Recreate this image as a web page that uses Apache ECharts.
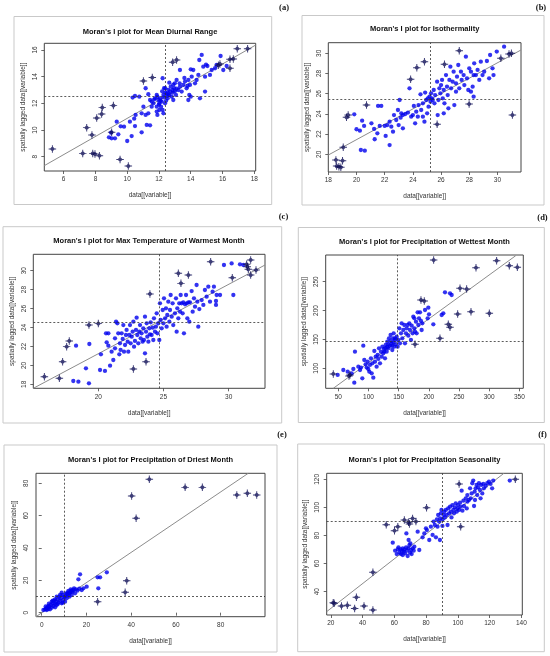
<!DOCTYPE html>
<html><head><meta charset="utf-8">
<script src="https://cdn.jsdelivr.net/npm/echarts@6/dist/echarts.min.js"></script>
<style>html,body{margin:0;padding:0;background:#fff}#c{width:550px;height:656px}</style>
</head><body><div id="c"></div>
<script>
// ---------- (a) Mean Diurnal Range ----------
const aTitle = "Moran's I plot for Mean Diurnal Range";
const aXTicks = [6, 8, 10, 12, 14, 16, 18];
const aYTicks = [8, 10, 12, 14, 16];
const aXRange = [4.78, 18.09];
const aYRange = [6.93, 16.5];
const aMean = [12.41, 12.53];
const aFit = [[4.78, 7.33], [18.09, 16.37]];
const aInfl = [[5.29,8.58],[7.2,8.25],[7.45,10.18],[7.78,9.63],[7.83,8.25],[7.97,8.2],[8.08,10.9],[8.25,8.08],[8.39,11.2],[8.43,11.68],[9.13,11.83],[9.02,9.83],[9.55,7.8],[10.07,7.3],[11.02,13.68],[11.58,13.93],[12.86,15.08],[13.11,15.25],[15.74,14.85],[16.47,14.63],[16.47,15.3],[16.68,15.33],[16.93,16.1],[17.58,16.1],[15.84,14.95]];
const aBlue = [[8.85,9.45],[9.02,9.38],[9.23,9.38],[9.34,10.63],[8.98,9.8],[9.44,9.68],[9.8,10.25],[9.59,10.28],[10.28,9.55],[10.0,9.18],[10.49,10.3],[10.44,10.85],[10.17,10.63],[10.53,11.13],[10.34,12.43],[10.49,12.55],[10.76,12.5],[10.91,11.25],[11.02,11.75],[10.91,9.83],[11.23,10.38],[11.44,10.35],[11.16,11.13],[11.16,13.13],[11.33,12.68],[11.44,12.25],[11.54,12.13],[11.65,12.0],[11.75,12.38],[11.86,11.75],[11.86,12.63],[11.96,12.25],[12.02,12.0],[12.07,12.38],[12.13,11.75],[12.17,12.13],[12.23,11.5],[12.28,12.63],[12.32,13.13],[12.38,12.0],[12.23,13.88],[12.48,12.75],[12.55,12.38],[12.59,13.0],[12.65,12.63],[12.74,13.25],[12.8,12.5],[12.86,12.8],[12.9,12.25],[12.95,13.13],[13.0,13.5],[13.07,12.63],[13.11,13.75],[13.22,13.0],[13.32,14.5],[13.32,13.25],[13.43,12.88],[13.53,13.38],[13.64,13.63],[13.74,13.13],[13.85,13.75],[13.91,12.63],[13.95,13.38],[14.06,14.0],[14.16,14.5],[14.27,13.5],[14.37,13.75],[14.48,14.13],[14.58,12.38],[14.54,15.25],[14.69,15.63],[14.79,14.75],[14.9,12.88],[14.9,14.0],[15.05,14.8],[15.21,14.13],[15.32,14.5],[15.53,14.63],[15.63,14.88],[15.88,15.55],[16.05,14.5],[16.26,14.8],[14.96,14.9],[14.0,14.55],[11.9,11.13],[12.02,11.5],[11.54,11.75],[12.4,13.13],[12.65,13.55],[13.85,12.25],[14.0,12.5],[12.28,11.25],[11.86,11.38],[11.33,11.25],[12.1,12.2],[12.3,12.45],[12.5,12.55],[12.7,12.9],[12.45,12.2],[12.6,12.7],[12.85,13.0],[13.1,13.1],[12.0,11.9],[11.7,12.3],[12.4,12.8],[13.3,13.5],[13.6,13.9],[13.8,13.3],[12.9,13.4],[13.0,12.9],[12.2,12.9],[11.9,12.5]];

// ---------- (b) Isothermality ----------
const bTitle = "Moran's I plot for Isothermality";
const bXTicks = [18, 20, 22, 24, 26, 28, 30];
const bYTicks = [20, 22, 24, 26, 28, 30];
const bXRange = [18.0, 31.67];
const bYRange = [18.25, 31.05];
const bMean = [25.25, 25.48];
const bFit = [[18.0, 19.93], [31.67, 30.33]];
const bInfl = [[18.54,19.44],[18.59,18.84],[18.75,18.78],[18.89,18.71],[19.01,19.37],[19.06,20.69],[19.29,23.66],[19.41,23.89],[20.71,24.88],[23.84,27.43],[24.28,28.58],[24.82,29.17],[25.72,22.97],[26.24,28.91],[27.29,30.26],[27.99,24.98],[30.24,29.5],[30.82,29.93],[30.99,30.0],[31.06,23.89]];
const bBlue = [[19.84,23.96],[20.0,22.48],[20.24,22.34],[20.4,23.33],[20.54,22.81],[20.31,20.43],[20.59,20.36],[21.06,23.07],[21.25,22.51],[21.29,21.49],[21.48,22.08],[21.53,24.79],[21.76,24.79],[21.65,22.81],[22.0,22.81],[22.07,21.82],[22.19,22.9],[22.35,20.92],[22.35,23.23],[22.47,22.74],[22.59,22.24],[22.66,23.89],[22.82,23.4],[22.94,24.39],[22.99,22.9],[23.06,25.38],[23.13,23.63],[23.18,24.06],[23.29,22.57],[23.29,23.89],[23.46,23.99],[23.65,24.13],[23.76,26.53],[23.88,23.73],[24.0,23.89],[24.07,24.79],[24.16,23.07],[24.24,24.22],[24.35,23.73],[24.4,24.88],[24.54,25.94],[24.59,24.39],[24.71,23.73],[24.71,25.05],[24.82,23.23],[24.87,26.11],[24.94,25.38],[25.01,24.06],[25.06,25.54],[25.11,24.72],[25.18,25.71],[25.25,25.21],[25.29,26.04],[25.34,25.54],[25.41,25.38],[25.48,26.37],[25.53,25.05],[25.58,25.87],[25.72,27.19],[25.76,23.89],[25.81,25.38],[25.88,26.53],[25.95,26.04],[26.0,26.86],[26.07,27.36],[26.12,25.54],[26.19,26.37],[26.24,25.05],[26.35,27.85],[26.42,26.7],[26.47,25.87],[26.52,24.55],[26.59,27.36],[26.66,28.68],[26.71,26.53],[26.82,27.19],[26.89,28.18],[26.94,24.88],[27.06,27.03],[27.13,27.69],[27.22,28.84],[27.29,26.53],[27.41,28.18],[27.46,27.36],[27.6,27.85],[27.65,26.86],[27.76,29.67],[27.84,27.52],[27.93,26.37],[28.0,28.51],[28.12,28.18],[28.24,26.7],[28.31,27.85],[28.35,29.01],[28.47,27.85],[28.59,28.35],[28.71,27.36],[28.82,29.17],[28.94,27.85],[29.06,28.18],[29.25,29.24],[29.41,27.52],[29.48,29.83],[29.65,28.51],[29.72,27.85],[29.95,30.17],[30.47,30.66],[28.31,25.71],[28.12,26.2],[27.06,26.2],[26.19,24.06]];

// ---------- (c) Max Temperature of Warmest Month ----------
const cTitle = "Moran's I plot for Max Temperature of Warmest Month";
const cXTicks = [20, 25, 30];
const cYTicks = [18, 20, 22, 24, 26, 28, 30];
const cXRange = [15.01, 32.79];
const cYRange = [17.58, 31.73];
const cMean = [24.65, 24.55];
const cFit = [[15.01, 17.58], [32.79, 30.6]];
const cInfl = [[15.86,18.81],[17.01,18.63],[17.26,20.39],[17.57,21.98],[17.77,22.58],[19.28,24.26],[20.0,24.41],[22.69,19.62],[23.66,20.39],[23.96,27.54],[26.14,29.72],[26.34,28.66],[26.91,29.54],[28.62,30.95],[30.28,29.26],[31.38,30.67],[31.43,30.42],[31.51,30.14],[31.69,31.13],[31.69,29.54],[32.1,30.07]];
const cBlue = [[18.29,22.08],[18.08,18.35],[18.47,18.28],[19.28,18.11],[19.05,19.69],[19.31,22.26],[20.13,19.51],[20.2,21.17],[20.51,19.41],[20.59,23.38],[20.64,22.43],[20.77,23.38],[20.77,22.08],[20.9,19.97],[21.02,21.45],[21.15,20.57],[21.28,21.8],[21.28,22.86],[21.36,24.62],[21.46,24.44],[21.53,23.38],[21.61,21.17],[21.66,22.33],[21.71,21.63],[21.79,23.38],[21.87,22.79],[21.92,24.26],[21.97,21.45],[22.05,22.15],[22.12,23.21],[22.17,23.74],[22.25,22.5],[22.3,21.45],[22.38,23.21],[22.43,24.26],[22.48,22.33],[22.56,23.03],[22.63,23.56],[22.69,24.62],[22.74,21.98],[22.81,22.58],[22.89,23.74],[22.94,25.04],[22.99,23.21],[23.07,22.33],[23.15,23.56],[23.2,24.26],[23.25,22.86],[23.32,23.38],[23.4,22.5],[23.45,23.91],[23.5,22.68],[23.58,25.14],[23.58,21.27],[23.66,23.56],[23.71,24.44],[23.76,23.03],[23.84,22.5],[23.91,23.91],[23.96,23.28],[24.02,24.55],[24.09,23.21],[24.17,23.98],[24.22,22.68],[24.27,24.97],[24.35,23.56],[24.42,24.09],[24.48,25.5],[24.53,23.38],[24.6,24.44],[24.68,22.68],[24.73,26.55],[24.78,24.79],[24.86,23.91],[24.94,25.85],[24.99,24.44],[25.04,27.08],[25.12,24.97],[25.19,26.03],[25.24,24.09],[25.29,25.32],[25.37,26.73],[25.45,24.62],[25.5,25.85],[25.55,27.43],[25.63,25.14],[25.7,26.55],[25.75,24.26],[25.88,25.5],[25.96,27.08],[26.01,23.56],[26.06,26.03],[26.14,24.97],[26.21,26.55],[26.27,25.67],[26.32,27.43],[26.39,26.55],[26.47,25.5],[26.52,26.66],[26.57,23.38],[26.65,26.45],[26.73,27.43],[26.78,26.55],[26.83,24.97],[26.91,26.66],[26.98,24.62],[27.03,26.66],[27.16,27.85],[27.24,25.67],[27.34,27.08],[27.42,26.2],[27.54,28.49],[27.6,26.73],[27.67,24.09],[27.75,25.95],[27.93,26.9],[28.06,26.38],[28.18,27.96],[28.31,27.26],[28.44,28.31],[28.57,26.73],[28.77,27.78],[28.87,28.31],[29.03,26.38],[29.08,27.43],[29.34,27.43],[29.64,30.6],[30.23,30.77],[30.36,27.43],[30.87,30.67],[31.13,30.6],[29.03,26.8]];

// ---------- (d) Precipitation of Wettest Month ----------
const dTitle = "Moran's I plot for Precipitation of Wettest Month";
const dXTicks = [50, 100, 150, 200, 250, 300, 350];
const dYTicks = [100, 150, 200, 250];
const dXRange = [29.1, 356.6];
const dYRange = [65.4, 296.2];
const dMean = [148.5, 147.2];
const dFit = [[41.7, 65.4], [344, 295]];
const dInfl = [[41.7,90.2],[67.7,86.7],[69.3,88.5],[177.1,141.5],[187.0,218.3],[192.5,216.5],[208.0,287.5],[218.5,151.9],[232.3,176.2],[235.1,171.0],[247.8,194.0],[251.7,238.5],[262.7,237.3],[269.9,198.1],[278.2,274.2],[300.3,195.2],[312.4,286.3],[333.4,277.7],[346.7,274.8]];
const dBlue = [[48.9,88.5],[65.5,94.2],[76.5,75.2],[74.9,98.8],[77.6,128.8],[83.2,102.9],[86.0,97.1],[87.6,101.2],[89.8,82.7],[91.4,139.2],[93.1,114.4],[95.3,106.9],[97.0,101.2],[98.6,111.5],[99.7,98.8],[101.4,94.2],[102.5,105.8],[104.1,117.3],[105.3,91.3],[106.4,108.7],[108.0,83.8],[109.7,130.0],[110.8,111.5],[111.9,120.2],[113.5,102.9],[115.2,123.1],[116.3,116.2],[117.4,134.6],[119.1,108.7],[120.7,128.8],[121.8,120.2],[123.0,137.5],[124.6,126.0],[125.7,133.5],[127.4,117.3],[128.5,140.4],[130.1,128.8],[131.2,146.2],[132.9,134.6],[134.0,151.9],[135.6,139.2],[136.7,157.7],[138.4,143.3],[139.5,131.7],[140.6,151.9],[141.7,160.6],[142.8,137.5],[143.9,149.0],[145.0,141.5],[146.7,154.8],[148.3,137.5],[149.4,149.0],[151.1,169.2],[152.2,143.3],[153.9,160.6],[155.0,177.9],[156.1,151.9],[157.7,166.3],[159.4,175.0],[160.5,143.3],[162.2,160.6],[163.3,169.2],[164.9,175.0],[166.0,156.5],[167.7,177.9],[168.8,166.3],[170.4,149.0],[171.6,173.8],[173.2,160.6],[174.3,189.4],[176.0,169.2],[177.1,163.5],[178.7,180.8],[179.8,160.6],[181.5,196.9],[182.6,175.0],[183.7,186.5],[185.4,196.9],[187.0,181.9],[189.2,177.9],[193.7,201.0],[198.1,186.5],[199.2,205.0],[200.3,193.5],[207.5,176.2],[221.3,192.3],[224.0,195.2],[226.8,231.5],[235.1,229.8],[237.9,226.9],[188.1,166.3],[176.0,186.5],[58.3,97.1],[72.1,91.3],[128,135],[133,141],[137,147],[141,145],[126,129],[131,137],[144,152],[139,139]];

// ---------- (e) Precipitation of Driest Month ----------
const eTitle = "Moran's I plot for Precipitation of Driest Month";
const eXTicks = [0, 20, 40, 60, 80];
const eYTicks = [0, 20, 40, 60, 80];
const eXRange = [-2.55, 99.8];
const eYRange = [-2.5, 86.2];
const eMean = [10.1, 9.9];
const eFit = [[-2.55, -2.5], [92.3, 86.2]];
const eInfl = [[25.0,6.8],[37.3,12.6],[38.0,19.8],[40.2,72.2],[42.2,58.4],[48.1,82.5],[64.1,77.5],[71.8,77.5],[87.2,72.8],[91.9,73.8],[96.1,72.8]];
const eBlue = [[0.75,1.65],[1.5,2.06],[1.94,2.68],[2.24,1.65],[2.53,3.3],[2.98,2.27],[3.43,3.71],[3.73,2.06],[4.02,4.74],[4.47,3.09],[4.47,6.8],[4.92,5.77],[5.22,4.12],[5.51,7.42],[5.96,5.36],[6.41,6.8],[6.71,4.74],[7.0,8.25],[7.45,6.19],[7.9,9.9],[8.2,7.42],[8.49,8.87],[8.94,5.77],[9.39,10.93],[9.69,7.84],[9.98,9.9],[10.43,6.8],[10.88,11.96],[11.18,8.87],[11.62,10.93],[11.92,13.4],[12.37,9.9],[12.67,12.37],[12.96,14.43],[13.41,10.93],[13.86,12.99],[14.16,14.02],[14.9,11.96],[15.35,14.43],[15.94,13.61],[16.39,20.62],[17.14,23.71],[17.88,14.02],[18.63,15.05],[20.1,16.08],[25.3,15.05],[25.0,21.86],[26.1,21.86],[29.1,24.95],[6.71,9.9],[5.96,8.25],[4.92,7.42],[2.98,4.12],[9.39,6.19],[10.43,9.9],[11.18,11.55],[12.37,11.96],[13.41,13.61],[14.45,15.05],[8.2,10.93],[8.94,12.37],[3.2,5.5],[1.8,3.9],[6.0,3.3],[7.2,5.3],[11.8,12.6],[13.0,13.1],[16.8,14.8]];

// ---------- (f) Precipitation Seasonality ----------
const fTitle = "Moran's I plot for Precipitation Seasonality";
const fXTicks = [20, 40, 60, 80, 100, 120, 140];
const fYTicks = [40, 60, 80, 100, 120];
const fXRange = [17.4, 140.6];
const fYRange = [23.4, 124.3];
const fMean = [89.9, 90.3];
const fFit = [[17.4, 25.8], [129, 124.3]];
const fInfl = [[21.5,32.2],[22.1,31.7],[26.7,29.8],[30.4,30.3],[35.0,28.1],[36.1,36.0],[40.9,29.8],[46.5,26.9],[46.5,53.8],[54.9,87.7],[60.1,83.4],[62.2,86.3],[66.3,91.0],[69.0,89.4],[69.5,88.2],[71.5,92.2],[73.6,89.9],[80.3,99.8],[100.8,116.7],[101.8,86.3],[136.2,120.0]];
const fBlue = [[59.0,74.9],[60.5,69.2],[61.5,66.8],[62.2,70.1],[62.6,71.6],[63.2,67.8],[63.8,70.1],[64.2,66.8],[64.7,69.2],[65.3,70.9],[65.3,66.1],[65.9,68.5],[66.3,70.1],[66.7,67.3],[67.4,71.6],[67.6,81.5],[68.0,69.2],[68.4,65.4],[68.8,70.9],[69.0,76.8],[69.5,73.2],[69.9,67.8],[70.1,74.3],[70.5,69.7],[70.9,66.8],[71.5,70.9],[72.2,69.2],[72.6,72.0],[74.7,82.7],[75.7,69.7],[77.8,78.7],[78.9,81.5],[80.5,83.9],[82.0,76.8],[83.0,86.3],[84.1,80.4],[84.7,89.9],[85.5,87.5],[86.2,78.7],[86.8,91.5],[87.2,86.3],[87.6,94.6],[88.2,89.9],[88.7,76.8],[88.9,92.2],[89.3,95.8],[89.7,98.2],[90.3,91.5],[91.0,94.6],[91.4,97.0],[91.8,92.9],[92.4,98.2],[93.0,94.6],[93.5,87.5],[93.9,99.3],[94.5,95.8],[95.1,100.5],[95.6,97.0],[96.0,92.9],[96.6,101.7],[97.2,98.2],[97.6,95.8],[98.1,100.0],[98.7,102.9],[99.3,97.0],[99.7,99.3],[100.1,101.7],[100.8,98.2],[101.4,103.4],[101.8,100.5],[102.4,111.9],[102.9,97.7],[103.5,104.8],[103.9,101.0],[105.0,106.5],[105.6,99.3],[106.0,108.8],[107.0,105.3],[107.7,113.6],[108.1,106.5],[108.7,110.0],[109.1,117.2],[109.7,119.1],[110.2,101.0],[110.6,111.2],[111.2,113.6],[111.8,116.0],[112.2,108.8],[112.7,114.3],[113.3,117.2],[113.9,112.4],[114.3,106.5],[114.7,116.0],[115.4,110.0],[116.0,116.7],[116.4,113.6],[117.5,115.3],[118.5,117.2],[119.6,118.3],[120.6,116.7],[121.6,113.6],[122.3,119.1],[110.8,105.3],[106.0,104.1],[90.3,86.8],[79.9,85.1],[132.7,119.1]];

const AXIS_NAME_X = 'data[[variable]]';
const AXIS_NAME_Y = 'spatially lagged data[[variable]]';

// layout (pixels)
const panels = [
  {label:'(a)', title:aTitle, blue:aBlue, infl:aInfl, fit:aFit, mean:aMean, xr:aXRange, yr:aYRange, xt:aXTicks, yt:aYTicks,
   grid:[44.3,43.3,211.4,127.7], frame:[14,16.5,257.7,188], titleXY:[150,32], labelXY:[284,8]},
  {label:'(b)', title:bTitle, blue:bBlue, infl:bInfl, fit:bFit, mean:bMean, xr:bXRange, yr:bYRange, xt:bXTicks, yt:bYTicks,
   grid:[328.3,42.7,192.7,129.3], frame:[302,15.5,242,189.5], titleXY:[424.7,29.3], labelXY:[541,8]},
  {label:'(c)', title:cTitle, blue:cBlue, infl:cInfl, fit:cFit, mean:cMean, xr:cXRange, yr:cYRange, xt:cXTicks, yt:cYTicks,
   grid:[33.3,254.3,231.7,134], frame:[3,226.7,278.7,196.3], titleXY:[149,241], labelXY:[283.5,217]},
  {label:'(d)', title:dTitle, blue:dBlue, infl:dInfl, fit:dFit, mean:dMean, xr:dXRange, yr:dYRange, xt:dXTicks, yt:dYTicks,
   grid:[325.7,255,197.6,133.3], frame:[298.3,227.5,246,195], titleXY:[424.5,242.3], labelXY:[542.5,218]},
  {label:'(e)', title:eTitle, blue:eBlue, infl:eInfl, fit:eFit, mean:eMean, xr:eXRange, yr:eYRange, xt:eXTicks, yt:eYTicks,
   grid:[36,473.3,229,143.4], frame:[4,445,273,207], titleXY:[150.5,460], labelXY:[282,435]},
  {label:'(f)', title:fTitle, blue:fBlue, infl:fInfl, fit:fFit, mean:fMean, xr:fXRange, yr:fYRange, xt:fXTicks, yt:fYTicks,
   grid:[326.7,473.3,195.6,141.7], frame:[297.7,444,246.6,207.7], titleXY:[424.5,460], labelXY:[542.5,435]}
];

const FONT = '"Liberation Sans", Arial, sans-serif';
const BLUE = '#0000ee';
const DARK = '#0c0c55';
const INFL_SYMBOL = 'path://M0,-7L7,0L0,7L-7,0Z M-1.3,-10L1.3,-10L1.3,10L-1.3,10Z M-10,-1.3L10,-1.3L10,1.3L-10,1.3Z';

const grids = [], xAxes = [], yAxes = [], series = [], graphics = [];
panels.forEach((p, i) => {
  grids.push({left:p.grid[0], top:p.grid[1], width:p.grid[2], height:p.grid[3], show:true, borderColor:'#444', borderWidth:1, backgroundColor:'transparent', containLabel:false});
  const tickStyle = {show:true, length:3, lineStyle:{color:'#444', width:0.8}};
  const labStyle = {fontSize:6.5, color:'#333', fontFamily:FONT};
  xAxes.push({gridIndex:i, type:'value', min:p.xr[0], max:p.xr[1],
    axisLine:{show:false}, splitLine:{show:false},
    axisTick:Object.assign({customValues:p.xt}, tickStyle),
    axisLabel:Object.assign({customValues:p.xt, margin:5}, labStyle),
    name:AXIS_NAME_X, nameLocation:'middle', nameGap:21,
    nameTextStyle:{fontSize:6.5, color:'#333', fontFamily:FONT}});
  yAxes.push({gridIndex:i, type:'value', min:p.yr[0], max:p.yr[1],
    axisLine:{show:false}, splitLine:{show:false},
    axisTick:Object.assign({customValues:p.yt}, tickStyle),
    axisLabel:Object.assign({customValues:p.yt, margin:6, rotate:90}, labStyle),
    name:AXIS_NAME_Y, nameLocation:'middle', nameGap:18, nameRotate:90,
    nameTextStyle:{fontSize:6.5, color:'#333', fontFamily:FONT}});
  series.push({type:'line', xAxisIndex:i, yAxisIndex:i, data:p.fit, showSymbol:false, symbol:'none',
    lineStyle:{color:'#8c8c8c', width:1}, z:1, silent:true, clip:true});
  series.push({type:'scatter', xAxisIndex:i, yAxisIndex:i, data:p.blue, symbol:'circle', symbolSize:4.3,
    itemStyle:{color:BLUE}, z:2, silent:true,
    markLine:{silent:true, symbol:['none','none'], label:{show:false},
      lineStyle:{color:'#333', width:0.8, type:[2,2]},
      data:[{xAxis:p.mean[0]}, {yAxis:p.mean[1]}]}});
  series.push({type:'scatter', xAxisIndex:i, yAxisIndex:i, data:p.infl, symbol:INFL_SYMBOL, symbolSize:7.5,
    itemStyle:{color:DARK}, z:3, silent:true});
  graphics.push({type:'rect', shape:{x:p.frame[0], y:p.frame[1], width:p.frame[2], height:p.frame[3]},
    style:{fill:'none', stroke:'#c9c9c9', lineWidth:1}, silent:true, z:0});
  graphics.push({type:'text', x:p.titleXY[0], y:p.titleXY[1],
    style:{text:p.title, fill:'#111', font:'bold 7.5px ' + FONT, align:'center', verticalAlign:'middle'}});
  graphics.push({type:'text', x:p.labelXY[0], y:p.labelXY[1],
    style:{text:p.label, fill:'#111', font:'bold 8.5px "Liberation Serif", serif', align:'center', verticalAlign:'middle'}});
});

const chart = echarts.init(document.getElementById('c'), null, {renderer:'canvas'});
chart.setOption({animation:false, backgroundColor:'#fff', grid:grids, xAxis:xAxes, yAxis:yAxes, series:series, graphic:graphics});
</script>
</body></html>
